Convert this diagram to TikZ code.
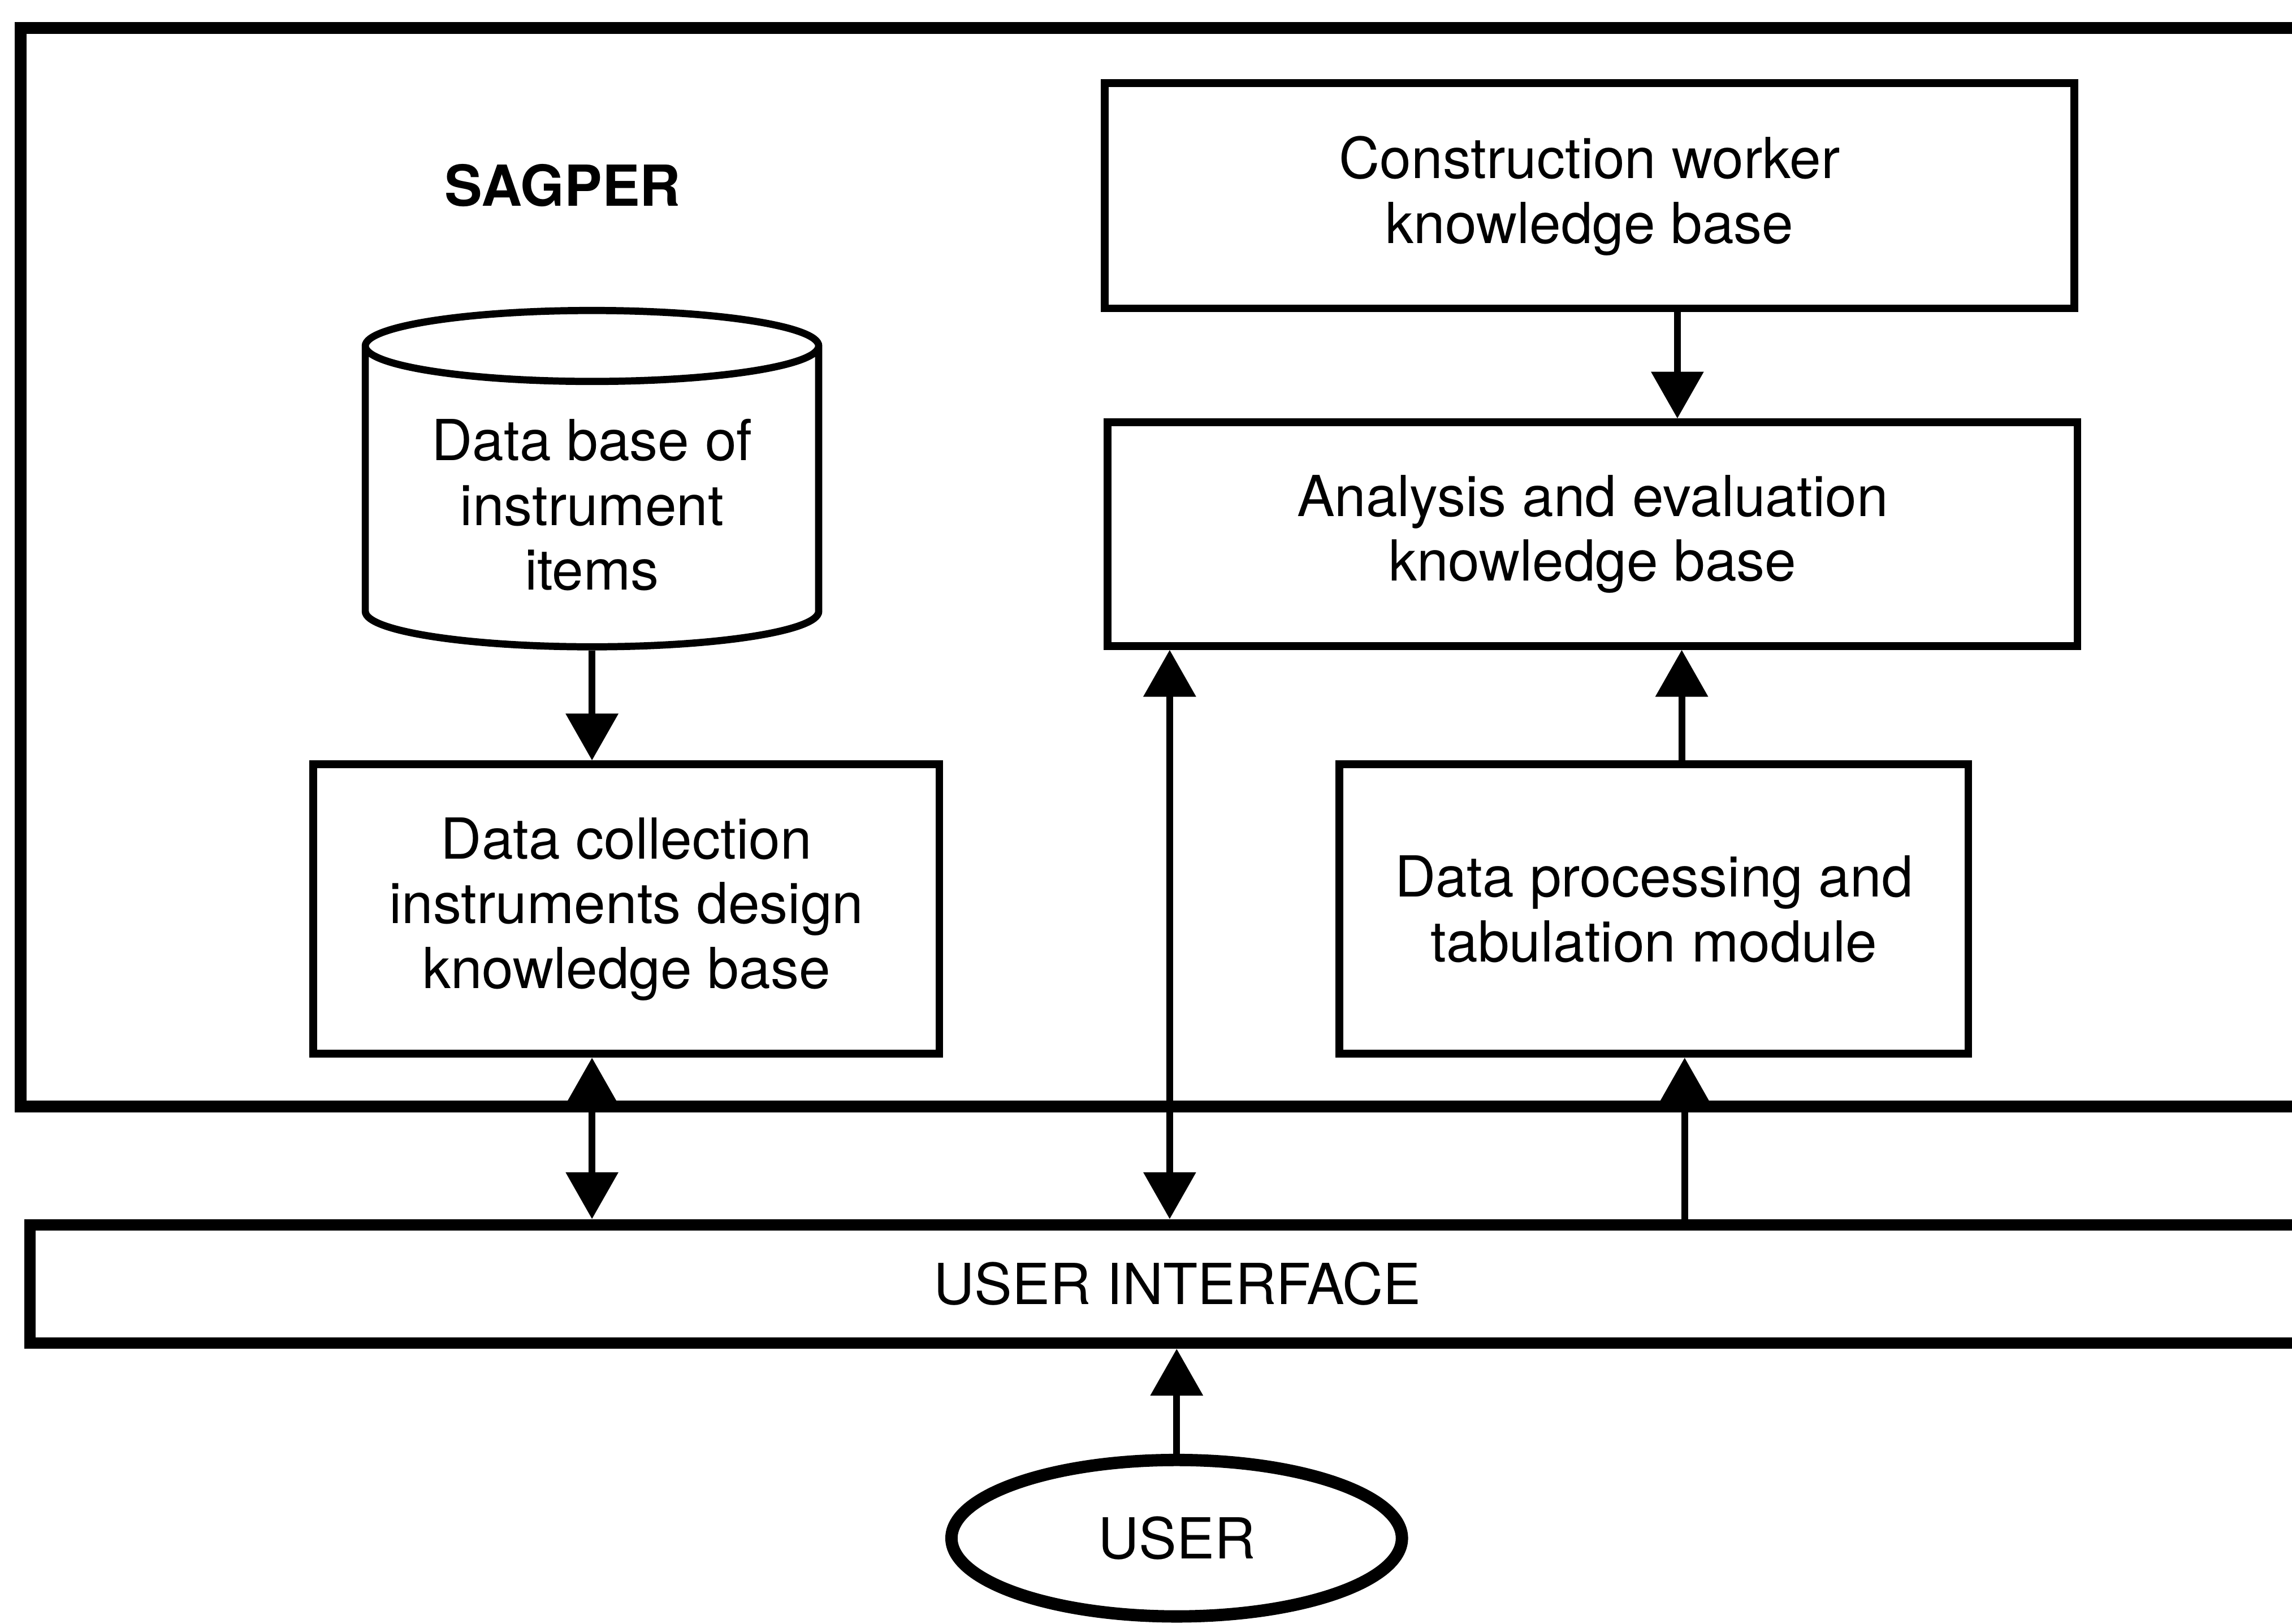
\documentclass[tikz,border=0pt]{standalone}
\usepackage{fontspec}
\setmainfont{TeX Gyre Heros}
\usetikzlibrary{arrows.meta,shapes.geometric}

\tikzset{
  kbase/.style={draw, line width=1.5pt, align=center, font=\fontsize{11}{12.6}\selectfont},
  dbase/.style={cylinder, shape border rotate=90, aspect=0.2, draw, line width=1.4pt, align=center, font=\fontsize{11}{12.6}\selectfont},
  conn/.style={line width=1.3pt, -{Triangle[width=0.35cm,length=0.32cm]}},
  twoway/.style={line width=1.3pt, {Triangle[width=0.35cm,length=0.32cm]}-{Triangle[width=0.35cm,length=0.32cm]}}
}

\begin{document}
\begin{tikzpicture}
    \tikzset{x={(0.01cm, 0cm)}, y={(0cm, -0.01cm)}}
    \useasboundingbox (0, 0) rectangle (1568, 1111);
    \clip (0, 0) rectangle (1568, 1111);

    % system frame
    \draw[line width=2.3pt] (14, 19) rectangle (1620, 757);
    \node[font=\fontsize{11}{12.6}\selectfont\bfseries] (sagper) at (385, 127) {SAGPER};

    \node[dbase, minimum width=3.1cm, minimum height=2.3cm, anchor=shape center] (db) at (405, 327.5) {Data base of\\instrument\\items};
    \node[kbase, minimum width=4.28cm, minimum height=1.98cm] (collect) at (428.5, 622) {Data collection\\instruments design\\knowledge base};
    \node[kbase, minimum width=6.63cm, minimum height=1.54cm] (worker) at (1087.5, 134) {Construction worker\\knowledge base};
    \node[kbase, minimum width=6.63cm, minimum height=1.53cm] (analysis) at (1089.5, 365.5) {Analysis and evaluation\\knowledge base};
    \node[kbase, minimum width=4.3cm, minimum height=1.98cm] (process) at (1131.5, 622) {Data processing and\\tabulation module};

    \node[draw, line width=2.2pt, minimum width=15.69cm, minimum height=0.81cm, font=\fontsize{11}{12.6}\selectfont] (ui) at (805.5, 878.5) {USER INTERFACE};
    \node[ellipse, draw, line width=2.4pt, minimum width=3.08cm, minimum height=1.07cm, font=\fontsize{11}{12.6}\selectfont] (user) at (805, 1052.5) {USER};

    \draw[conn] (db.south) -- (db.south |- collect.north);
    \draw[twoway] (collect.south -| db.south) -- (db.south |- ui.north);
    \draw[conn] ([xshift=0.6cm]worker.south) -- ([xshift=0.6cm]worker.south |- analysis.north);
    \draw[conn] ([xshift=0.19cm]process.north) -- ([xshift=0.19cm]process.north |- analysis.south);
    \draw[conn] ([xshift=0.21cm]process.south |- ui.north) -- ([xshift=0.21cm]process.south);
    \draw[twoway] ([xshift=0.45cm]analysis.south west) -- ([xshift=0.45cm]analysis.south west |- ui.north);
    \draw[conn] (user.north) -- (user.north |- ui.south);
\end{tikzpicture}
\end{document}
